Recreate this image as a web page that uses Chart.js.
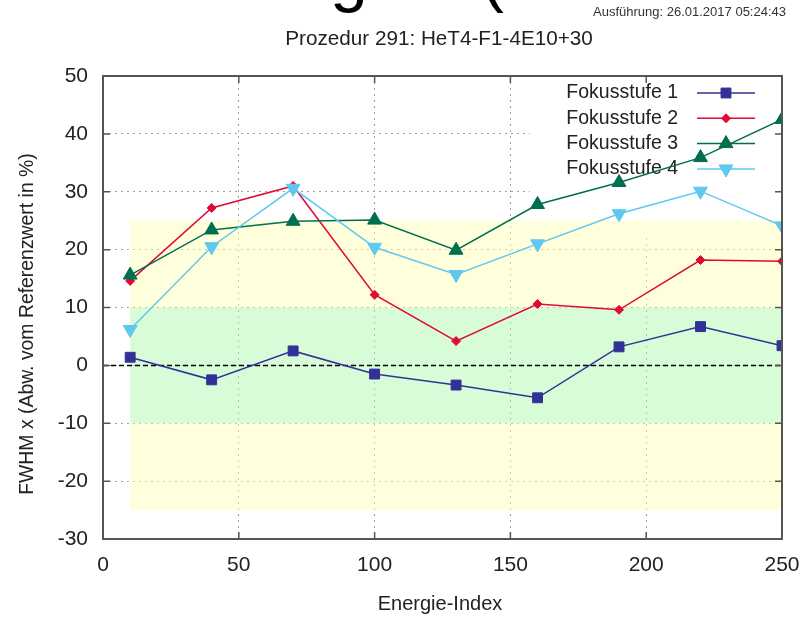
<!DOCTYPE html>
<html>
<head>
<meta charset="utf-8">
<script src="https://cdn.jsdelivr.net/npm/chart.js@4"></script>
<style>
  body { margin: 0; background: #fff; }
  #wrap { width: 800px; height: 617px; }
</style>
</head>
<body>
<div id="wrap"><canvas id="fwhm" width="800" height="617"></canvas></div>
<script>
// data
var energyIndex = [10, 40, 70, 100, 130, 160, 190, 220, 250];
var fokus1 = [1.4, -2.5, 2.5, -1.5, -3.4, -5.6, 3.2, 6.7, 3.4];
var fokus2 = [14.6, 27.2, 31.0, 12.2, 4.2, 10.6, 9.6, 18.2, 18.0];
var fokus3 = [15.6, 23.4, 24.9, 25.1, 19.9, 27.8, 31.6, 35.9, 42.5];
var fokus4 = [6.2, 20.5, 30.6, 20.4, 15.7, 21.0, 26.2, 30.1, 24.1];
var seriesLabels = ["Fokusstufe 1", "Fokusstufe 2", "Fokusstufe 3", "Fokusstufe 4"];
var xRange = [0, 250];
var yRange = [-30, 50];
var toleranceOuter = [-25, 25];
var toleranceInner = [-10, 10];

var subTitle = "Prozedur 291: HeT4-F1-4E10+30";
var stamp = "Ausführung: 26.01.2017 05:24:43";
var xTitle = "Energie-Index";
var yTitle = "FWHM x (Abw. vom Referenzwert in %)";

Chart.defaults.font.family = '"Liberation Sans", Arial, sans-serif';

function pts(vals) {
  return vals.map(function (v, i) { return { x: energyIndex[i], y: v }; });
}

function series(i, vals, color, style, radius, rot) {
  return {
    label: seriesLabels[i],
    data: pts(vals),
    borderColor: color,
    backgroundColor: color,
    borderWidth: 1.5,
    pointStyle: style,
    pointRadius: radius,
    pointRotation: rot || 0,
    pointBackgroundColor: color,
    pointBorderColor: color,
    pointBorderWidth: 1,
    tension: 0,
    order: 4 - i
  };
}

var decor = {
  id: 'decor',
  beforeDatasetsDraw: function (chart) {
    var c = chart.ctx, a = chart.chartArea, xs = chart.scales.x, ys = chart.scales.y;
    c.save();
    // key box hides the grid behind it
    c.fillStyle = '#fff';
    c.fillRect(530, a.top + 1, a.right - 531, 237 - a.top);

    // tolerance bands
    var x0 = xs.getPixelForValue(energyIndex[0]);
    var x1 = xs.getPixelForValue(energyIndex[energyIndex.length - 1]);
    function band(lo, hi, col) {
      var t = ys.getPixelForValue(hi), b = ys.getPixelForValue(lo);
      c.fillStyle = col;
      c.fillRect(x0, t, x1 - x0, b - t);
    }
    band(toleranceInner[1], toleranceOuter[1], 'rgba(255,255,185,0.5)');
    band(toleranceOuter[0], toleranceInner[0], 'rgba(255,255,185,0.5)');
    band(toleranceInner[0], toleranceInner[1], 'rgba(178,249,178,0.5)');

    // zero line
    var yz = ys.getPixelForValue(0);
    c.strokeStyle = '#000';
    c.lineWidth = 1.5;
    c.setLineDash([5, 3]);
    c.beginPath();
    c.moveTo(a.left, yz);
    c.lineTo(a.right, yz);
    c.stroke();
    c.setLineDash([]);

    // key
    c.font = '19.5px "Liberation Sans", Arial, sans-serif';
    c.textAlign = 'right';
    c.textBaseline = 'middle';
    chart.data.datasets.forEach(function (ds, i) {
      var yy = 93 + i * 25.3;
      c.fillStyle = '#222';
      c.fillText(ds.label, 678, yy);
      c.strokeStyle = ds.borderColor;
      c.lineWidth = 1.5;
      c.beginPath();
      c.moveTo(697, yy);
      c.lineTo(755, yy);
      c.stroke();
      c.fillStyle = ds.borderColor;
      c.lineWidth = 1;
      Chart.helpers.drawPoint(c, {
        pointStyle: ds.pointStyle,
        radius: ds.pointRadius,
        rotation: ds.pointRotation,
        borderWidth: 1
      }, 726, yy);
    });
    c.restore();
  },
  afterDraw: function (chart) {
    var c = chart.ctx, a = chart.chartArea, xs = chart.scales.x, ys = chart.scales.y;
    c.save();
    // frame with inward ticks
    c.strokeStyle = '#555';
    c.lineWidth = 2;
    c.strokeRect(a.left, a.top, a.right - a.left, a.bottom - a.top);
    c.lineWidth = 1.5;
    c.beginPath();
    xs.ticks.forEach(function (t) {
      var px = xs.getPixelForValue(t.value);
      c.moveTo(px, a.top); c.lineTo(px, a.top + 7);
      c.moveTo(px, a.bottom); c.lineTo(px, a.bottom - 7);
    });
    ys.ticks.forEach(function (t) {
      var py = ys.getPixelForValue(t.value);
      c.moveTo(a.left, py); c.lineTo(a.left + 7, py);
      c.moveTo(a.right, py); c.lineTo(a.right - 7, py);
    });
    c.stroke();

    // texts
    c.fillStyle = '#222';
    c.textBaseline = 'middle';
    c.textAlign = 'center';
    c.font = '20.7px "Liberation Sans", Arial, sans-serif';
    c.fillText(subTitle, 439, 39);
    c.font = '20px "Liberation Sans", Arial, sans-serif';
    c.fillText(xTitle, 440, 604);
    c.save();
    c.translate(28, 324);
    c.rotate(-Math.PI / 2);
    c.font = '19.4px "Liberation Sans", Arial, sans-serif';
    c.fillText(yTitle, 0, 0);
    c.restore();

    c.textAlign = 'right';
    c.fillStyle = '#333';
    c.font = '13px "Liberation Sans Narrow", "Liberation Sans", Arial, sans-serif';
    c.fillText(stamp, 786, 12);

    // cut-off heading at the very top
    c.textAlign = 'left';
    c.textBaseline = 'alphabetic';
    c.fillStyle = '#000';
    c.font = '68px "Liberation Sans", Arial, sans-serif';
    c.fillText('ge \u2013 (', 330, -1);
    c.restore();
  }
};

var ctx = document.getElementById('fwhm').getContext('2d');
window.fwhmChart = new Chart(ctx, {
  type: 'line',
  data: {
    datasets: [
      series(0, fokus1, 'rgb(50,50,150)', 'rect', 7),
      series(1, fokus2, 'rgb(225,10,55)', 'rectRot', 4.5),
      series(2, fokus3, 'rgb(0,110,80)', 'triangle', 8),
      series(3, fokus4, 'rgb(95,200,240)', 'triangle', 8, 180)
    ]
  },
  options: {
    responsive: false,
    animation: false,
    layout: { padding: { top: 76, right: 18, left: 0, bottom: 0 } },
    plugins: {
      legend: { display: false },
      tooltip: { enabled: false }
    },
    scales: {
      x: {
        type: 'linear',
        min: xRange[0],
        max: xRange[1],
        afterFit: function (s) { s.height = 78; s.paddingLeft = 0; s.paddingRight = 0; },
        ticks: { stepSize: 50, padding: 14, color: '#222', font: { size: 21 } },
        grid: { color: '#a0a0a0', lineWidth: 1, drawTicks: false },
        border: { display: false, dash: [2, 4] }
      },
      y: {
        type: 'linear',
        min: yRange[0],
        max: yRange[1],
        afterFit: function (s) { s.width = 103; s.paddingTop = 0; s.paddingBottom = 0; },
        ticks: { stepSize: 10, padding: 15, color: '#222', font: { size: 21 } },
        grid: { color: '#a0a0a0', lineWidth: 1, drawTicks: false },
        border: { display: false, dash: [2, 4] }
      }
    }
  },
  plugins: [decor]
});
</script>
</body>
</html>
